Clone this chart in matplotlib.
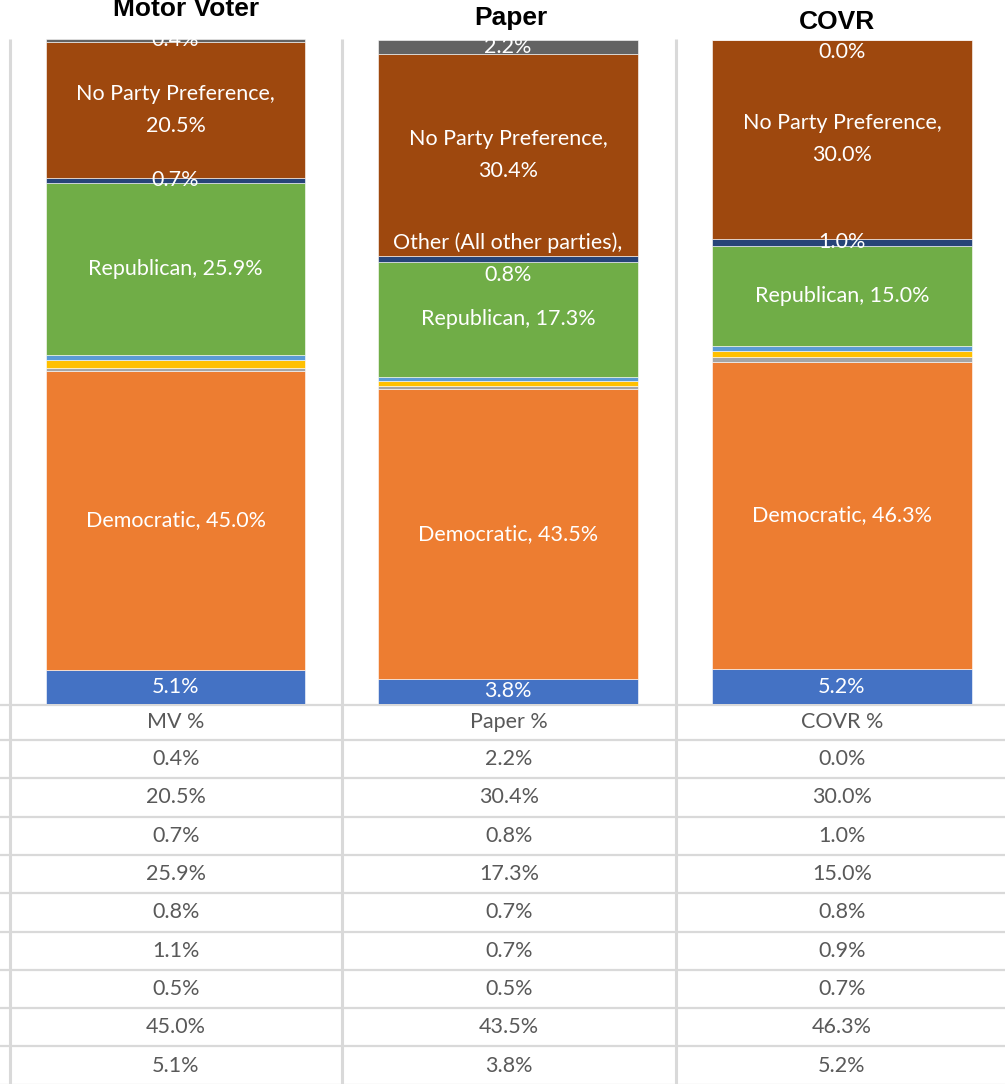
import matplotlib
matplotlib.use("Agg")
import matplotlib.pyplot as plt
import numpy as np

# ---------------- data ----------------
panels = ["Motor Voter", "Paper", "COVR"]
table_headers = ["MV %", "Paper %", "COVR %"]
# series in stacking order (bottom -> top)
series = ["American Independent", "Democratic", "Green", "Libertarian",
          "Peace and Freedom", "Republican", "Other (All other parties)",
          "No Party Preference", "Unknown"]
mv_vals = [5.1, 45.0, 0.5, 1.1, 0.8, 25.9, 0.7, 20.5, 0.4]
paper_vals = [3.8, 43.5, 0.5, 0.7, 0.7, 17.3, 0.8, 30.4, 2.2]
covr_vals = [5.2, 46.3, 0.7, 0.9, 0.8, 15.0, 1.0, 30.0, 0.0]
values = [mv_vals, paper_vals, covr_vals]

colors = ["#4472C4", "#ED7D31", "#A5A5A5", "#FFC000", "#5B9BD5",
          "#70AD47", "#264478", "#9E480E", "#636363"]
# which segment labels show the series name (None = no label)
show_name = [
    [False, True, None, None, None, True, False, True, False],
    [False, True, None, None, None, True, True, True, False],
    [False, True, None, None, None, True, False, True, False],
]

# ---------------- layout ----------------
W, H = 1005, 1084
DPI = 100
fig = plt.figure(figsize=(W / DPI, H / DPI), dpi=DPI)
fig.patch.set_facecolor("white")

LABEL_FONT = ["Lato", "DejaVu Sans"]
TITLE_FONT = ["Liberation Sans", "DejaVu Sans"]
FS = 15.5
grid_c = "#D9D9D9"
text_c = "#595959"

bg = fig.add_axes([0, 0, 1, 1])
bg.set_xlim(0, W)
bg.set_ylim(H, 0)
bg.axis("off")

col_edges = [9.5, 342, 676, 1010]
plot_top, plot_bot = 39, 704

for x in col_edges[:3]:
    bg.plot([x, x], [plot_top, H], color=grid_c, lw=2.2, solid_capstyle="butt", zorder=1)

row_lines = [705, 740] + [740 + 38.3 * k for k in range(1, 10)]
for y in row_lines:
    bg.plot([0, W], [y, y], color=grid_c, lw=1.6, solid_capstyle="butt", zorder=1)

rows_top_to_bottom = list(range(len(series)))[::-1]
col_centers = [176, 509, 842]
for ci in range(3):
    cx = col_centers[ci]
    bg.text(cx, (row_lines[0] + row_lines[1]) / 2, table_headers[ci], ha="center",
            va="center", color=text_c, fontsize=FS, family=LABEL_FONT)
    for r, si in enumerate(rows_top_to_bottom):
        yc = (row_lines[r + 1] + row_lines[r + 2]) / 2
        bg.text(cx, yc, f"{values[ci][si]:.1f}%", ha="center", va="center",
                color=text_c, fontsize=FS, family=LABEL_FONT)

title_y = [9, 18, 22]
title_x = [186, 511, 837]
for ci in range(3):
    x0, x1 = col_edges[ci], col_edges[ci] + 332
    ax = fig.add_axes([x0 / W, (H - plot_bot) / H, (x1 - x0) / W, (plot_bot - plot_top) / H])
    ax.set_xlim(-0.5, 0.5)
    ax.set_ylim(0, 100)
    ax.axis("off")
    vals = values[ci]
    bottom = 0.0
    for si, v in enumerate(vals):
        ax.bar(0, v, width=0.783, bottom=bottom, color=colors[si],
               edgecolor="white", linewidth=0.4, zorder=2)
        sn = show_name[ci][si]
        if sn is not None:
            if series[si] in ("Republican", "Democratic"):
                label = f"{series[si]}, {v:.1f}%"
            elif sn:
                label = f"{series[si]},\n{v:.1f}%"
            else:
                label = f"{v:.1f}%"
            if v == 0:
                ax.annotate(label, (0, bottom), xytext=(0, -9), textcoords="offset points",
                            ha="center", va="center", color="white", fontsize=FS,
                            family=LABEL_FONT, annotation_clip=False, zorder=3)
            else:
                ax.text(0, bottom + v / 2, label, ha="center", va="center",
                        color="white", fontsize=FS, family=LABEL_FONT,
                        linespacing=1.75, clip_on=True, zorder=3)
        bottom += v
    fig.text(title_x[ci] / W, 1 - title_y[ci] / H, panels[ci], ha="center", va="center",
             fontsize=19, fontweight="bold", family=TITLE_FONT, color="black")

fig.savefig("out.png", dpi=DPI, facecolor="white")
